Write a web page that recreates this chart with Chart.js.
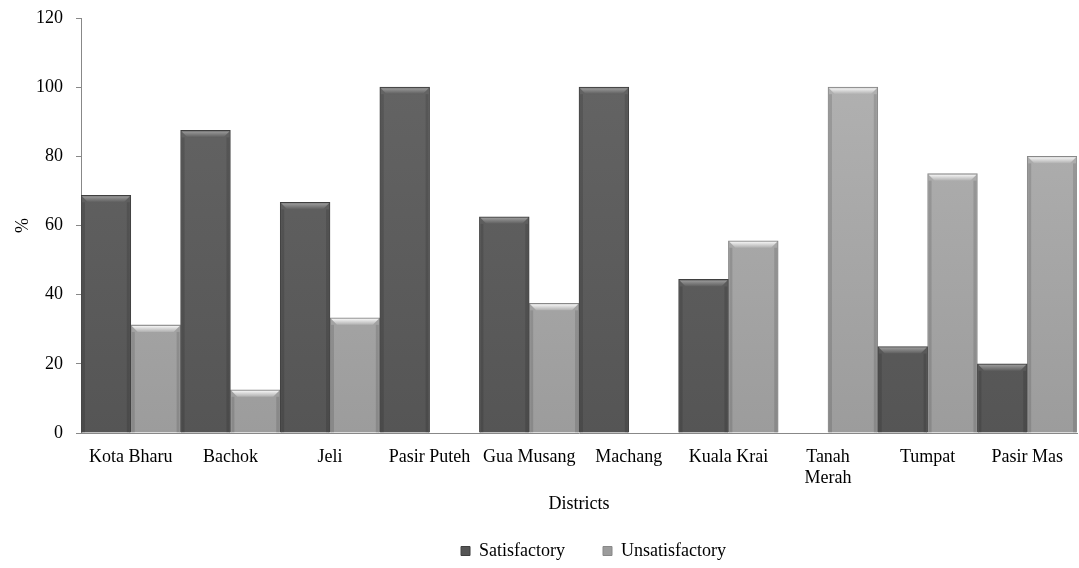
<!DOCTYPE html>
<html>
<head>
<meta charset="utf-8">
<script src="https://cdn.jsdelivr.net/npm/chart.js@4.4.1/dist/chart.umd.min.js"></script>
<style>
  body { margin: 0; background: #fff; }
  #wrap { width: 1079px; height: 568px; }
</style>
</head>
<body>
<div id="wrap"><canvas id="myChart"></canvas></div>
<script>
const districts = ['Kota Bharu', 'Bachok', 'Jeli', 'Pasir Puteh', 'Gua Musang', 'Machang', 'Kuala Krai', ['Tanah', 'Merah'], 'Tumpat', 'Pasir Mas'];
const satisfactory = [68.75, 87.5, 66.7, 100, 62.5, 100, 44.4, 0, 25, 20];
const unsatisfactory = [31.25, 12.5, 33.3, 0, 37.5, 0, 55.6, 100, 75, 80];
const yTicks = [0, 20, 40, 60, 80, 100, 120];

const serif = "'Liberation Serif', 'Times New Roman', serif";

// vertical shading for the bar bodies
function barFill(top, bottom) {
    return (context) => {
        const area = context.chart.chartArea;
        if (!area) return top;
        const g = context.chart.ctx.createLinearGradient(0, area.top, 0, area.bottom);
        g.addColorStop(0, top);
        g.addColorStop(1, bottom);
        return g;
    };
}

// bevelled top edge like the office chart style
const bevel = {
    id: 'bevel',
    afterDatasetsDraw(chart) {
        const ctx = chart.ctx;
        chart.data.datasets.forEach((ds, i) => {
            const meta = chart.getDatasetMeta(i);
            meta.data.forEach((bar) => {
                const h = bar.base - bar.y;
                if (h < 2) return;
                const l = bar.x - bar.width / 2 + 1;
                const r = bar.x + bar.width / 2 - 1;
                const t = bar.y + 1;
                const d = Math.min(6, h - 1);
                const g = ctx.createLinearGradient(0, t, 0, t + d);
                g.addColorStop(0, ds.bevelLight);
                g.addColorStop(1, ds.bevelDark);
                ctx.save();
                ctx.beginPath();
                ctx.moveTo(l, t);
                ctx.lineTo(r, t);
                ctx.lineTo(r - d, t + d);
                ctx.lineTo(l + d, t + d);
                ctx.closePath();
                ctx.fillStyle = g;
                ctx.fill();
                // side shading
                ctx.fillStyle = 'rgba(0,0,0,0.12)';
                ctx.fillRect(l, t + d, 3, h - d - 1);
                ctx.fillRect(r - 3, t + d, 3, h - d - 1);
                ctx.restore();
            });
        });
    }
};

// legend sits a bit right of the canvas centre in the original
const legendShift = {
    id: 'legendShift',
    afterLayout(chart) {
        const lg = chart.legend;
        if (!lg || lg._shifted) return;
        const orig = lg.draw.bind(lg);
        lg.draw = function () {
            chart.ctx.save();
            chart.ctx.translate(55, 2);
            orig();
            chart.ctx.restore();
        };
        lg._shifted = true;
    }
};

const ctx = document.getElementById('myChart').getContext('2d');
const myChart = new Chart(ctx, {
    type: 'bar',
    data: {
        labels: districts,
        datasets: [{
            label: 'Satisfactory',
            data: satisfactory,
            backgroundColor: barFill('#666666', '#555555'),
            borderColor: '#3f3f3f',
            borderWidth: 1,
            bevelLight: '#9a9a9a',
            bevelDark: '#5e5e5e'
        }, {
            label: 'Unsatisfactory',
            data: unsatisfactory,
            backgroundColor: barFill('#b4b4b4', '#9c9c9c'),
            borderColor: '#888888',
            borderWidth: 1,
            bevelLight: '#f4f4f4',
            bevelDark: '#b0b0b0'
        }]
    },
    options: {
        responsive: true,
        maintainAspectRatio: false,
        animation: false,
        layout: { padding: { top: 18, right: 2, left: 0, bottom: 0 } },
        datasets: { bar: { categoryPercentage: 1.0, barPercentage: 1.0 } },
        plugins: {
            tooltip: { enabled: false },
            legend: {
                position: 'bottom',
                labels: {
                    color: '#000',
                    font: { family: serif, size: 18 },
                    boxWidth: 9,
                    boxHeight: 9,
                    padding: 38
                }
            }
        },
        scales: {
            x: {
                grid: { display: false },
                border: { display: true, color: '#888888', width: 1 },
                ticks: {
                    color: '#000',
                    font: { family: serif, size: 18 },
                    maxRotation: 0,
                    autoSkip: false,
                    padding: 5
                },
                title: {
                    display: true,
                    text: 'Districts',
                    color: '#000',
                    font: { family: serif, size: 18 },
                    padding: { top: 0, bottom: -13 }
                },
                afterFit(scale) { scale.height = 69; }
            },
            y: {
                min: 0,
                max: 120,
                afterBuildTicks(scale) { scale.ticks = yTicks.map(v => ({ value: v })); },
                grid: { display: true, drawOnChartArea: false, drawTicks: true, tickLength: 5, color: '#888888' },
                border: { display: true, color: '#888888', width: 1 },
                ticks: {
                    color: '#000',
                    font: { family: serif, size: 18 },
                    padding: 13
                },
                title: {
                    display: true,
                    text: '%',
                    color: '#000',
                    font: { family: serif, size: 18 },
                    padding: { top: 12, bottom: 4 }
                },
                afterFit(scale) {
                    scale.width = 81;
                    scale.paddingTop = 0;
                    scale.paddingBottom = 0;
                }
            }
        }
    },
    plugins: [bevel, legendShift]
});
</script>
</body>
</html>
